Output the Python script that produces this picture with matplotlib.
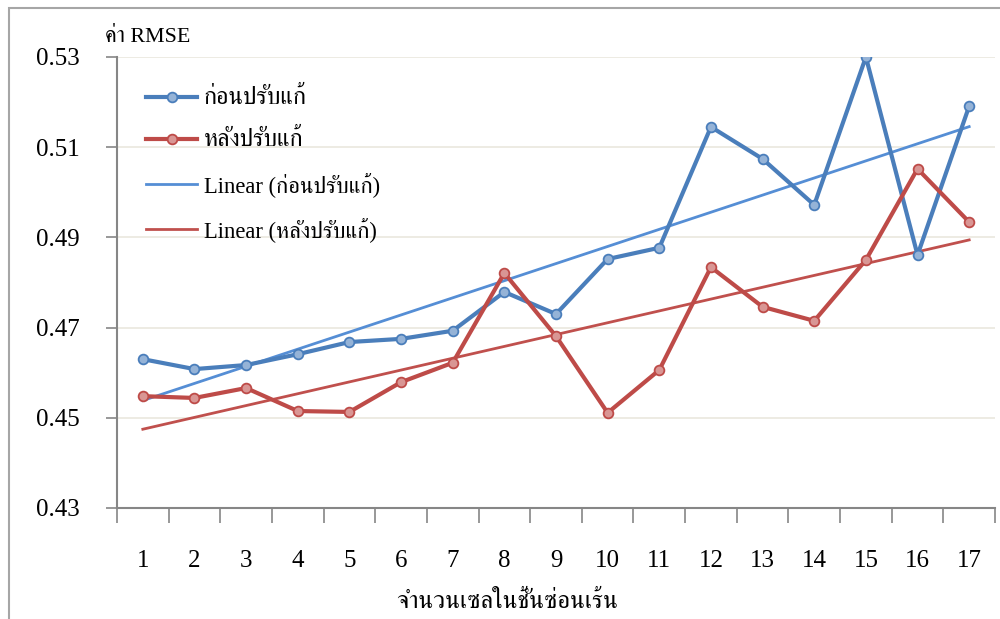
import numpy as np
import matplotlib
matplotlib.use("Agg")
import matplotlib.pyplot as plt
from matplotlib import font_manager
from matplotlib.patches import Rectangle

# ---- data -------------------------------------------------------------
hidden_cells = list(range(1, 18))
rmse_before = [0.4630, 0.4608, 0.4617, 0.4641, 0.4668, 0.4675, 0.4693, 0.4779,
               0.4730, 0.4852, 0.4877, 0.5145, 0.5074, 0.4972, 0.5300, 0.4861, 0.5191]
rmse_after = [0.4548, 0.4544, 0.4566, 0.4515, 0.4513, 0.4579, 0.4622, 0.4821,
              0.4681, 0.4511, 0.4606, 0.4834, 0.4746, 0.4715, 0.4850, 0.5052, 0.4934]
y_ticks = [0.43, 0.45, 0.47, 0.49, 0.51, 0.53]

label_before = "ก่อนปรับแก้"
label_after = "หลังปรับแก้"
trend_before = "Linear (ก่อนปรับแก้)"
trend_after = "Linear (หลังปรับแก้)"
y_title = "ค่า RMSE"
x_title = "จำนวนเซลในชั้นซ่อนเร้น"


# ---- fonts: serif Latin with a Thai-capable fallback -------------------
def thai_families():
    found = []
    try:
        from fontTools.ttLib import TTFont
    except Exception:
        return found
    for fe in font_manager.fontManager.ttflist:
        if fe.name in found:
            continue
        try:
            tt = TTFont(fe.fname, fontNumber=0, lazy=True)
            cmap = tt.getBestCmap() or {}
            if 0x0E01 in cmap and 0x0E48 in cmap:
                found.append(fe.name)
        except Exception:
            pass
    return found


thai = thai_families()
serif_first = [f for f in thai if "Serif" in f]
fam = ["Liberation Serif"] + serif_first + [f for f in thai if f not in serif_first] + ["DejaVu Sans"]
plt.rcParams["font.family"] = fam

# ---- colours -----------------------------------------------------------
blue = "#4A7EBB"
blue_fill = "#95B3D7"
red = "#BE4B48"
red_fill = "#D99694"
blue_trend = "#558ED5"
red_trend = "#C0504D"
grid_col = "#ECE9E0"
axis_col = "#868686"

fig = plt.figure(figsize=(10, 6.19), dpi=100)
ax = fig.add_axes([0.117, 1 - 508 / 619, 0.995 - 0.117, (508 - 57) / 619])

x = np.array(hidden_cells, dtype=float)
yb = np.array(rmse_before)
ya = np.array(rmse_after)

ax.plot(x, yb, color=blue, lw=3, marker="o", ms=7, mfc=blue_fill, mec=blue,
        mew=1.3, label=label_before, zorder=4)
ax.plot(x, ya, color=red, lw=3, marker="o", ms=7, mfc=red_fill, mec=red,
        mew=1.3, label=label_after, zorder=4)

# least-squares trend lines
pb = np.polyfit(x, yb, 1)
pa = np.polyfit(x, ya, 1)
ax.plot(x, np.polyval(pb, x), color=blue_trend, lw=2.0, label=trend_before, zorder=3)
ax.plot(x, np.polyval(pa, x), color=red_trend, lw=2.0, label=trend_after, zorder=3)

ax.set_xlim(0.5, 17.5)
ax.set_ylim(0.43, 0.53)
ax.set_yticks(y_ticks)
ax.set_yticklabels([f"{v:.2f}" for v in y_ticks], fontsize=18)
ax.yaxis.grid(True, color=grid_col, lw=1.3)
ax.set_axisbelow(True)

# category ticks between points, labels at the points
ax.set_xticks(np.arange(0.5, 18.0, 1.0))
ax.set_xticklabels([])
ax.set_xticks(x, minor=True)
ax.set_xticklabels([str(c) for c in hidden_cells], minor=True, fontsize=18)
ax.tick_params(axis="x", which="minor", length=0, pad=30)
ax.tick_params(axis="x", which="major", length=11, width=1.2, color=axis_col, direction="out")
ax.tick_params(axis="y", length=8, width=1.2, color=axis_col, pad=19)

for s in ["top", "right"]:
    ax.spines[s].set_visible(False)
for s in ["left", "bottom"]:
    ax.spines[s].set_color(axis_col)
    ax.spines[s].set_linewidth(1.5)

fig.text(0.105, 1 - 38 / 619, y_title, fontsize=15.8, ha="left", va="center")
fig.text(0.507, 1 - 602 / 619, x_title, fontsize=17.8, ha="center", va="center")

leg = ax.legend(loc="upper left", bbox_to_anchor=(0.012, 0.975), frameon=False,
                fontsize=15, handlelength=2.45, handletextpad=0.3, labelspacing=0.97)
# Thai-only entries are set a little larger to balance the Latin text
for t in leg.get_texts()[:2]:
    t.set_fontsize(17.5)
for t in leg.get_texts()[2:]:
    t.set_fontsize(16.3)

# outer chart border
fig.add_artist(Rectangle((9 / 1000, -0.05), 1.2, 1 - 8 / 619 + 0.05,
                         transform=fig.transFigure, fill=False,
                         edgecolor="#A6A6A6", lw=1.5))

fig.savefig("out.png", dpi=100)
